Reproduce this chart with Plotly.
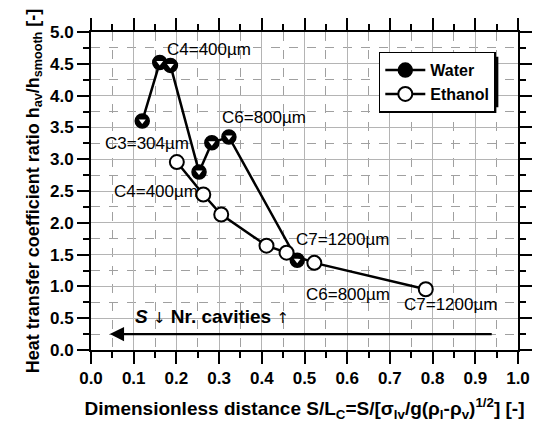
import plotly.graph_objects as go

# Measured heat transfer ratio vs dimensionless cavity spacing
water_x = [0.12, 0.161, 0.186, 0.253, 0.283, 0.323, 0.483]
water_y = [3.60, 4.52, 4.475, 2.80, 3.26, 3.35, 1.41]
ethanol_x = [0.201, 0.263, 0.305, 0.411, 0.458, 0.523, 0.784]
ethanol_y = [2.955, 2.445, 2.13, 1.64, 1.53, 1.37, 0.955]

# Axis ticks
x_ticks = [0.0, 0.1, 0.2, 0.3, 0.4, 0.5, 0.6, 0.7, 0.8, 0.9, 1.0]
y_ticks = [0.0, 0.5, 1.0, 1.5, 2.0, 2.5, 3.0, 3.5, 4.0, 4.5, 5.0]
x_tick_labels = ["0.0", "0.1", "0.2", "0.3", "0.4", "0.5", "0.6", "0.7", "0.8", "0.9", "1.0"]
y_tick_labels = ["0.0", "0.5", "1.0", "1.5", "2.0", "2.5", "3.0", "3.5", "4.0", "4.5", "5.0"]

# Cavity labels: (text, x, y)
labels = [
    ("C4=400µm", 0.276, 4.72),
    ("C3=304µm", 0.132, 3.24),
    ("C6=800µm", 0.405, 3.66),
    ("C4=400µm", 0.153, 2.49),
    ("C7=1200µm", 0.589, 1.73),
    ("C6=800µm", 0.603, 0.87),
    ("C7=1200µm", 0.843, 0.72),
]

FONT = "Liberation Sans, Arial, sans-serif"

fig = go.Figure()
fig.add_trace(go.Scatter(
    x=water_x, y=water_y, mode="lines+markers", name="<b>Water</b>",
    line=dict(color="black", width=2.5),
    marker=dict(symbol="circle", size=14, color="black",
                line=dict(color="black", width=1.5)),
))
# white notch inside the water markers
fig.add_trace(go.Scatter(
    x=water_x, y=water_y, mode="markers", showlegend=False, hoverinfo="skip",
    marker=dict(symbol="triangle-down", size=6, color="white",
                line=dict(width=0)),
))
fig.add_trace(go.Scatter(
    x=ethanol_x, y=ethanol_y, mode="lines+markers", name="<b>Ethanol</b>",
    line=dict(color="black", width=2.5),
    marker=dict(symbol="circle", size=14, color="white",
                line=dict(color="black", width=2)),
))

for text, x, y in labels:
    fig.add_annotation(x=x, y=y, text=text, showarrow=False,
                       font=dict(family=FONT, size=17, color="black"))

# spacing / cavity-count arrow
fig.add_annotation(x=0.044, y=0.25, ax=0.942, ay=0.25, axref="x", ayref="y",
                   xref="x", yref="y", text="", showarrow=True,
                   arrowhead=2, arrowsize=1.3, arrowwidth=2.2, arrowcolor="black")
fig.add_annotation(x=0.283, y=0.53, showarrow=False,
                   text="<b><i>S</i></b> <span style='font-family:DejaVu Sans;font-size:15px'>↓</span> "
                        "<b>Nr. cavities</b> <span style='font-family:DejaVu Sans;font-size:15px'>↑</span>",
                   font=dict(family=FONT, size=19, color="black"))

# legend drop shadow
fig.add_shape(type="rect", xref="paper", yref="paper",
              x0=0.686, x1=0.954, y0=0.763, y1=0.922,
              fillcolor="black", line=dict(width=0), layer="above")

axis_common = dict(
    showline=True, linecolor="black", linewidth=2, mirror="allticks",
    ticks="outside", ticklen=12, tickwidth=2, tickcolor="black",
    showgrid=True, gridcolor="#b4b4b4", gridwidth=1.2,
    zeroline=False,
    tickfont=dict(family=FONT, size=17, color="black", weight=700),
    tickmode="array",
)

fig.update_xaxes(
    range=[0, 1.0],
    tickvals=x_ticks, ticktext=[f"<b>{t}</b>" for t in x_tick_labels],
    minor=dict(dtick=0.05, tick0=0, ticks="outside", ticklen=6, tickwidth=1.5,
               tickcolor="black", showgrid=True, gridcolor="#a0a0a0",
               griddash="dash", gridwidth=1),
    title=dict(text="<b>Dimensionless distance S/L<sub>C</sub>=S/[σ<sub>lv</sub>/g(ρ<sub>l</sub>-ρ<sub>v</sub>)<sup>1/2</sup>] [-]</b>",
               font=dict(family=FONT, size=19, color="black"),
               standoff=14),
    **axis_common,
)
fig.update_yaxes(
    range=[0, 5.0],
    tickvals=y_ticks, ticktext=[f"<b>{t}</b>" for t in y_tick_labels],
    minor=dict(dtick=0.25, tick0=0, ticks="outside", ticklen=6, tickwidth=1.5,
               tickcolor="black", showgrid=True, gridcolor="#a0a0a0",
               griddash="dash", gridwidth=1),
    title=dict(text="<b>Heat transfer coefficient ratio h<sub>av</sub>/h<sub>smooth</sub> [-]</b>",
               font=dict(family=FONT, size=18, color="black"),
               standoff=6),
    **axis_common,
)

fig.update_layout(
    width=544, height=428,
    margin=dict(l=91, r=17, t=32, b=75),
    paper_bgcolor="white", plot_bgcolor="white",
    showlegend=True,
    legend=dict(x=0.674, y=0.938, xanchor="left", yanchor="top",
                bgcolor="white", bordercolor="black", borderwidth=1.5,
                font=dict(family=FONT, size=16, color="black"),
                tracegroupgap=0, itemwidth=40),
)

fig.write_html("out.html")
